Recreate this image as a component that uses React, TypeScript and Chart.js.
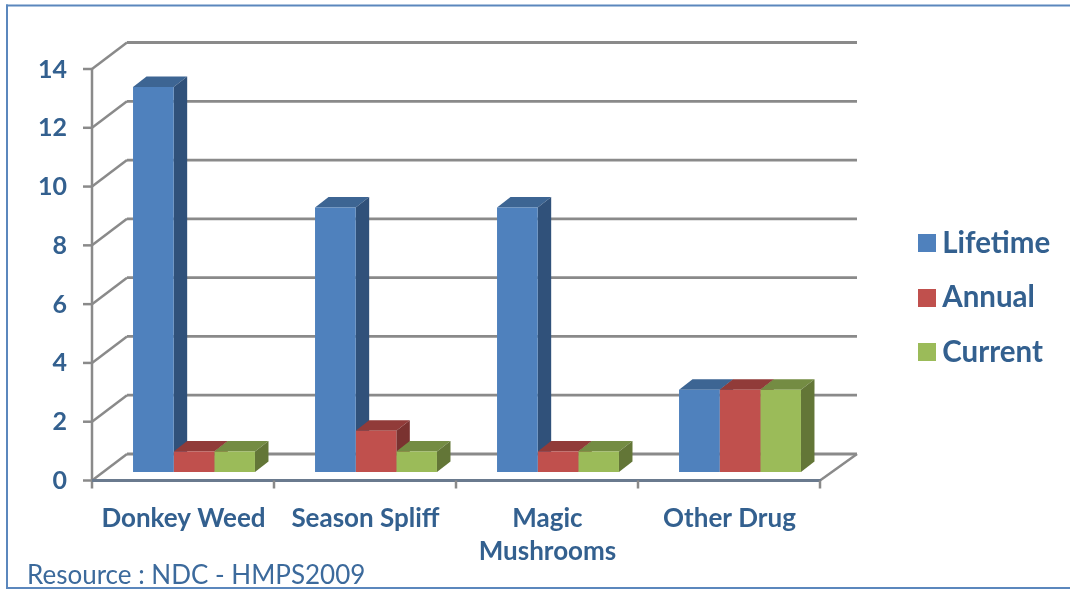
import React, { useEffect, useRef } from "react";
import { Chart, registerables } from "chart.js";

Chart.register(...registerables);

const categories: (string | string[])[] = ["Donkey Weed", "Season Spliff", ["Magic", "Mushrooms"], "Other Drug"];
const lifetime = [13.1, 9, 9, 2.8];
const annual = [0.7, 1.4, 0.7, 2.8];
const current = [0.7, 0.7, 0.7, 2.8];
const sourceNote = "Resource : NDC - HMPS2009";

const TEXT = "#33608f";
const FONT = "Lato";
const GRID = "#8a8a8a";
const faceColors = [
  { top: "#3d6593", side: "#30517a" },
  { top: "#913b39", side: "#7a3230" },
  { top: "#748c43", side: "#637637" },
];

const poly = (ctx: CanvasRenderingContext2D, pts: number[][], fill: string) => {
  ctx.beginPath();
  pts.forEach((p, i) => (i ? ctx.lineTo(p[0], p[1]) : ctx.moveTo(p[0], p[1])));
  ctx.closePath();
  ctx.fillStyle = fill;
  ctx.fill();
};

const line = (ctx: CanvasRenderingContext2D, x1: number, y1: number, x2: number, y2: number, color: string, w: number) => {
  ctx.beginPath();
  ctx.moveTo(x1, y1);
  ctx.lineTo(x2, y2);
  ctx.strokeStyle = color;
  ctx.lineWidth = w;
  ctx.stroke();
};

const swatch = (color: string) => {
  const c = document.createElement("canvas");
  c.width = 18;
  c.height = 18;
  const g = c.getContext("2d")!;
  g.fillStyle = color;
  g.fillRect(0, 0, 18, 18);
  return c;
};

const frame3d = {
  id: "frame3d",
  beforeDraw(chart: any) {
    const { ctx } = chart;
    const lg = chart.legend;
    const w = lg.width, h = lg.height;
    lg.left = 901.5;
    lg.top = 203.5;
    lg.right = lg.left + w;
    lg.bottom = lg.top + h;
    ctx.save();
    ctx.lineCap = "butt";
    line(ctx, 7, 4.5, 7, 589, "#5b87bd", 2);
    line(ctx, 6, 5.5, 1070, 5.5, "#5b87bd", 2);
    line(ctx, 6, 588, 1070, 588, "#5b87bd", 2);
    ctx.fillStyle = "#3c6a9c";
    ctx.font = `26px ${FONT}`;
    ctx.textAlign = "left";
    ctx.textBaseline = "alphabetic";
    ctx.fillText(sourceNote, 27, 584);
    ctx.restore();
  },
  beforeDatasetsDraw(chart: any) {
    const { ctx, scales, chartArea } = chart;
    const y = scales.y, x = scales.x;
    const fx = -11, fy = 8.5, bx = 24, by = -18;
    const left = chartArea.left, right = chartArea.right;
    ctx.save();
    y.ticks.forEach((t: any) => {
      const p = y.getPixelForValue(t.value);
      line(ctx, left + bx, p + by, right + bx + 2, p + by, GRID, 2.8);
      line(ctx, left + fx, p + fy, left + bx, p + by, GRID, 2.5);
      line(ctx, left + fx - 9, p + fy, left + fx, p + fy, GRID, 2.5);
    });
    const base = y.getPixelForValue(0);
    const topP = y.getPixelForValue(14);
    line(ctx, left + fx, topP + fy - 1, left + fx, base + fy + 8, GRID, 2.5);
    line(ctx, right + fx, base + fy, right + bx + 2, base + by, GRID, 2.5);
    line(ctx, left + fx, base + fy, right + fx + 1, base + fy, "#6a7a8e", 3);
    const step = (right - left) / categories.length;
    categories.forEach((_, i) => {
      const c = x.getPixelForValue(i) + step / 2 + fx;
      line(ctx, c, base + fy, c, base + fy + 8, GRID, 2.5);
    });
    const dx = 13.5, dy = -10.5;
    categories.forEach((_, i) => {
      chart.data.datasets.forEach((_d: any, di: number) => {
        const b = chart.getDatasetMeta(di).data[i];
        const l = b.x - b.width / 2, r = b.x + b.width / 2;
        poly(ctx, [[l, b.y], [l + dx, b.y + dy], [r + dx, b.y + dy], [r, b.y]], faceColors[di].top);
        poly(ctx, [[r, b.y], [r + dx, b.y + dy], [r + dx, b.base + dy], [r, b.base]], faceColors[di].side);
      });
    });
    ctx.restore();
  },
};

export default function App() {
  const ref = useRef<HTMLCanvasElement>(null);
  useEffect(() => {
    const chart = new Chart(ref.current!, {
      type: "bar",
      plugins: [frame3d as any],
      data: {
        labels: categories as any,
        datasets: [
          { label: "Lifetime", data: lifetime, backgroundColor: "#4f81bd" },
          { label: "Annual", data: annual, backgroundColor: "#c0504d" },
          { label: "Current", data: current, backgroundColor: "#9bbb59" },
        ],
      },
      options: {
        responsive: false,
        animation: false,
        datasets: { bar: { categoryPercentage: 0.67, barPercentage: 1, borderWidth: 0 } },
        layout: { padding: { top: 60.5, right: 239, left: 0, bottom: 0 } },
        scales: {
          x: {
            grid: { display: false },
            border: { display: false },
            afterFit: (s: any) => { s.height = 118; },
            ticks: {
              autoSkip: false,
              maxRotation: 0,
              minRotation: 0,
              padding: 22,
              labelOffset: -10.5,
              color: TEXT,
              font: { family: FONT, weight: "bold", size: 26, lineHeight: 1.27 },
            },
          },
          y: {
            min: 0,
            max: 14,
            grid: { display: false, drawTicks: false },
            border: { display: false },
            afterFit: (s: any) => { s.width = 103; },
            ticks: {
              stepSize: 2,
              padding: 36,
              labelOffset: 9,
              color: TEXT,
              font: { family: FONT, weight: "bold", size: 25 },
            },
          },
        },
        plugins: {
          title: { display: false },
          tooltip: { enabled: false },
          legend: {
            position: "chartArea" as any,
            align: "start",
            labels: {
              usePointStyle: true,
              pointStyleWidth: 1,
              boxHeight: 18,
              padding: 25,
              color: TEXT,
              font: { family: FONT, weight: "bold", size: 29.5 },
              generateLabels: (c: any) =>
                Chart.defaults.plugins.legend.labels.generateLabels(c).map((it: any, i: number) => ({
                  ...it,
                  pointStyle: swatch(c.data.datasets[i].backgroundColor),
                })),
            },
          },
        },
      },
    } as any);
    return () => chart.destroy();
  }, []);
  return (
    <div style={{ position: "absolute", left: 0, top: 0, width: 1070, height: 590 }}>
      <canvas ref={ref} width={1070} height={590} style={{ display: "block" }} />
    </div>
  );
}
